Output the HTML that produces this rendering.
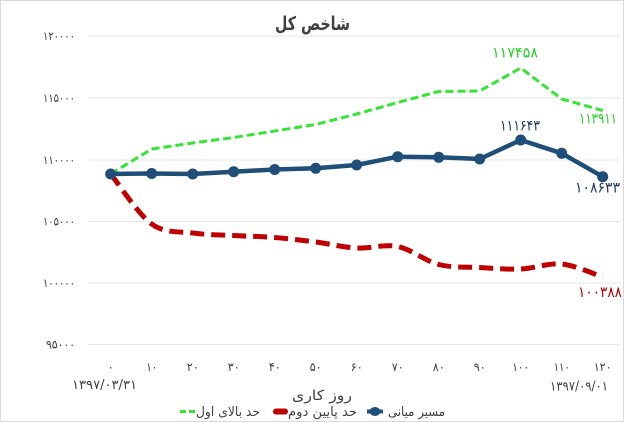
<!DOCTYPE html>
<html><head><meta charset="utf-8"><style>
html,body{margin:0;padding:0;background:#fff;}
svg{display:block;}
text{font-family:"DejaVu Sans","Liberation Sans",sans-serif;}
</style></head><body>
<svg width="624" height="422" viewBox="0 0 624 422" xmlns="http://www.w3.org/2000/svg">
<rect x="0.5" y="0.5" width="623" height="421" fill="#fff" stroke="#d9d9d9"/>
<!-- title -->
<text x="312.5" y="30" text-anchor="middle" font-size="19" font-weight="bold" fill="#404040" textLength="75" lengthAdjust="spacingAndGlyphs">شاخص کل</text>
<!-- gridlines -->
<g stroke="#e6e6e6" stroke-width="1">
<line x1="88" y1="36" x2="620" y2="36"/>
<line x1="88" y1="98" x2="620" y2="98"/>
<line x1="88" y1="160" x2="620" y2="160"/>
<line x1="88" y1="221.5" x2="620" y2="221.5"/>
<line x1="88" y1="283" x2="620" y2="283"/>
<line x1="88" y1="344.5" x2="620" y2="344.5"/>
</g>
<!-- y labels -->
<g font-size="12" fill="#404040" text-anchor="end" dominant-baseline="central" direction="ltr">
<text x="75" y="36" textLength="32" lengthAdjust="spacingAndGlyphs">۱۲۰۰۰۰</text>
<text x="75" y="98" textLength="32" lengthAdjust="spacingAndGlyphs">۱۱۵۰۰۰</text>
<text x="75" y="160" textLength="32" lengthAdjust="spacingAndGlyphs">۱۱۰۰۰۰</text>
<text x="75" y="221.5" textLength="32" lengthAdjust="spacingAndGlyphs">۱۰۵۰۰۰</text>
<text x="75" y="283" textLength="32" lengthAdjust="spacingAndGlyphs">۱۰۰۰۰۰</text>
<text x="75" y="344.5" textLength="29" lengthAdjust="spacingAndGlyphs">۹۵۰۰۰</text>
</g>
<!-- x labels -->
<g font-size="12" fill="#404040" text-anchor="middle" dominant-baseline="central" direction="ltr">
<text x="110.7" y="367">۰</text>
<text x="151.7" y="367" textLength="11" lengthAdjust="spacingAndGlyphs">۱۰</text>
<text x="192.7" y="367" textLength="12" lengthAdjust="spacingAndGlyphs">۲۰</text>
<text x="233.7" y="367" textLength="12" lengthAdjust="spacingAndGlyphs">۳۰</text>
<text x="274.7" y="367" textLength="12" lengthAdjust="spacingAndGlyphs">۴۰</text>
<text x="315.7" y="367" textLength="12" lengthAdjust="spacingAndGlyphs">۵۰</text>
<text x="356.7" y="367" textLength="12" lengthAdjust="spacingAndGlyphs">۶۰</text>
<text x="397.7" y="367" textLength="12" lengthAdjust="spacingAndGlyphs">۷۰</text>
<text x="438.7" y="367" textLength="12" lengthAdjust="spacingAndGlyphs">۸۰</text>
<text x="479.7" y="367" textLength="12" lengthAdjust="spacingAndGlyphs">۹۰</text>
<text x="520.7" y="367" textLength="17" lengthAdjust="spacingAndGlyphs">۱۰۰</text>
<text x="561.7" y="367" textLength="16" lengthAdjust="spacingAndGlyphs">۱۱۰</text>
<text x="602.7" y="367" textLength="18" lengthAdjust="spacingAndGlyphs">۱۲۰</text>
<text x="104.5" y="385.5" font-size="13" textLength="65" lengthAdjust="spacingAndGlyphs">۱۳۹۷/۰۳/۳۱</text>
<text x="579" y="387" font-size="13" textLength="58" lengthAdjust="spacingAndGlyphs">۱۳۹۷/۰۹/۰۱</text>
</g>
<!-- axis title -->
<text x="322" y="400" text-anchor="middle" font-size="14" fill="#404040" textLength="60" lengthAdjust="spacingAndGlyphs">روز کاری</text>
<!-- green series -->
<polyline fill="none" stroke="#33e633" stroke-width="3" stroke-dasharray="8 4" stroke-linejoin="round"
 points="110.7,174 151.7,149 192.7,143 233.7,137.5 274.7,131 315.7,124.5 356.7,114 397.7,102.5 438.7,91.5 479.7,91 520.7,68 561.7,99 602.7,110.5"/>
<!-- red series -->
<path fill="none" stroke="#c00000" stroke-width="5" stroke-dasharray="14 7" stroke-linejoin="round"
 d="M110.7,174 C117.5,182.3 138,214.2 151.7,224 C165.4,233.8 179,231.1 192.7,233 C206.4,234.9 220,234.8 233.7,235.5 C247.4,236.3 261,236.4 274.7,237.5 C288.4,238.6 302,240.3 315.7,242 C329.4,243.8 343,247.3 356.7,248 C370.4,248.8 384,243.8 397.7,246.5 C411.4,249.3 425,261 438.7,264.5 C452.4,268 466,266.8 479.7,267.5 C493.4,268.3 507,269.6 520.7,269 C534.4,268.4 548,262.7 561.7,264 C575.4,265.3 595.9,274.8 602.7,277"/>
<!-- blue series -->
<polyline fill="none" stroke="#1f4e79" stroke-width="4.5" stroke-linejoin="round"
 points="110.7,174 151.7,173.5 192.7,174 233.7,171.7 274.7,169.5 315.7,168.3 356.7,165 397.7,156.7 438.7,157.3 479.7,159 520.7,140 561.7,153.3 602.7,176.7"/>
<g fill="#1f4e79">
<circle cx="110.7" cy="174" r="5.5"/><circle cx="151.7" cy="173.5" r="5.5"/><circle cx="192.7" cy="174" r="5.5"/>
<circle cx="233.7" cy="171.7" r="5.5"/><circle cx="274.7" cy="169.5" r="5.5"/><circle cx="315.7" cy="168.3" r="5.5"/>
<circle cx="356.7" cy="165" r="5.5"/><circle cx="397.7" cy="156.7" r="5.5"/><circle cx="438.7" cy="157.3" r="5.5"/>
<circle cx="479.7" cy="159" r="5.5"/><circle cx="520.7" cy="140" r="5.5"/><circle cx="561.7" cy="153.3" r="5.5"/>
<circle cx="602.7" cy="176.7" r="5.5"/>
</g>
<!-- data labels -->
<g font-size="15" text-anchor="middle" dominant-baseline="central" direction="ltr">
<text x="515" y="52.5" fill="#22d322" textLength="46" lengthAdjust="spacingAndGlyphs">۱۱۷۴۵۸</text>
<text x="598" y="118.5" fill="#22d322" textLength="38" lengthAdjust="spacingAndGlyphs">۱۱۳۹۱۱</text>
<text x="520" y="125.5" fill="#1f3864" textLength="40" lengthAdjust="spacingAndGlyphs">۱۱۱۶۴۳</text>
<text x="597.5" y="187.5" fill="#1f3864" textLength="45" lengthAdjust="spacingAndGlyphs">۱۰۸۶۳۳</text>
<text x="600" y="292" fill="#c00000" textLength="44" lengthAdjust="spacingAndGlyphs">۱۰۰۳۸۸</text>
</g>
<!-- legend -->
<line x1="180" y1="411.5" x2="195" y2="411.5" stroke="#33e633" stroke-width="3" stroke-dasharray="6 3"/>
<text x="228" y="416" text-anchor="middle" font-size="13" fill="#404040" textLength="64" lengthAdjust="spacingAndGlyphs">حد بالای اول</text>
<line x1="276" y1="411.5" x2="285" y2="411.5" stroke="#c00000" stroke-width="6" stroke-linecap="round"/>
<text x="322.5" y="416" text-anchor="middle" font-size="13" fill="#404040" textLength="69" lengthAdjust="spacingAndGlyphs">حد پایین دوم</text>
<line x1="367" y1="411.5" x2="383" y2="411.5" stroke="#1f4e79" stroke-width="4"/>
<ellipse cx="375" cy="411.5" rx="5.5" ry="4.5" fill="#1f4e79"/>
<text x="416.5" y="416" text-anchor="middle" font-size="13" fill="#404040" textLength="57" lengthAdjust="spacingAndGlyphs">مسیر میانی</text>
</svg>
</body></html>
